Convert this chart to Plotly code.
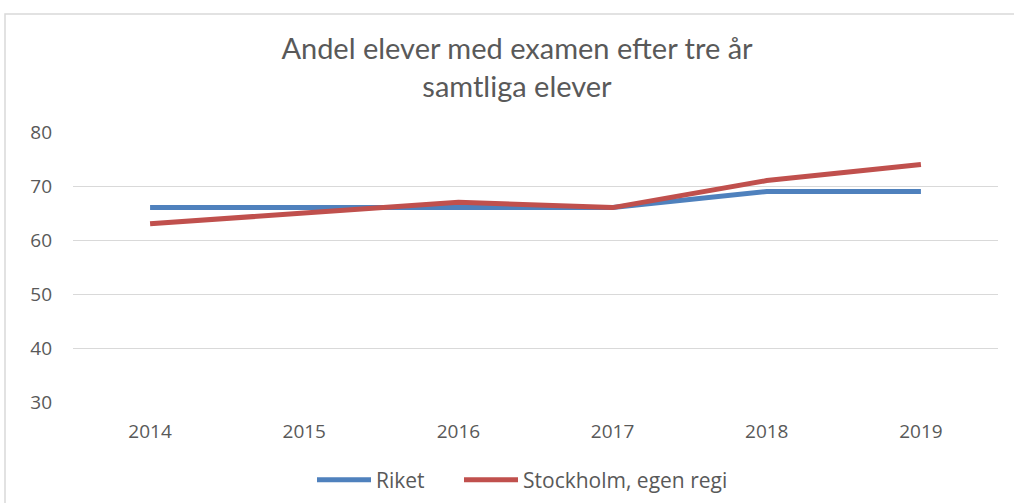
import plotly.graph_objects as go

years = ["2014", "2015", "2016", "2017", "2018", "2019"]
riket = [66, 66, 66, 66, 69, 69]
stockholm = [63, 65, 67, 66, 71, 74]
y_ticks = [30, 40, 50, 60, 70, 80]

L, R, T, B = 73, 16, 132, 101
W, H = 1014, 503
pw, ph = W - L - R, H - T - B

fig = go.Figure()
fig.add_trace(go.Scatter(x=years, y=riket, mode="lines", name="Riket",
                         line=dict(color="#4F81BD", width=5), legend="legend"))
fig.add_trace(go.Scatter(x=years, y=stockholm, mode="lines", name="Stockholm, egen regi",
                         line=dict(color="#C0504D", width=5), legend="legend2"))

tick_font = dict(family="'Open Sans', sans-serif", size=19, color="#595959")
legend_font = dict(family="'Open Sans', sans-serif", size=21, color="#595959")
fig.update_layout(
    width=W, height=H,
    margin=dict(l=L, r=R, t=T, b=B),
    paper_bgcolor="white", plot_bgcolor="white",
    title=dict(text="Andel elever med examen efter tre år<br>samtliga elever",
               x=517 / W, xanchor="center", xref="container",
               y=1 - 59 / H, yanchor="middle", yref="container",
               font=dict(family="Lato, sans-serif", size=29, color="#595959")),
    xaxis=dict(type="category", range=[-0.5, 5.5], showgrid=False, zeroline=False,
               showline=False, ticks="", ticklabelstandoff=16, tickfont=tick_font),
    yaxis=dict(range=[30, 80], tickvals=y_ticks, showgrid=True, gridcolor="#D9D9D9",
               gridwidth=1, zeroline=False, showline=False, ticks="",
               ticklabelstandoff=20, tickfont=tick_font),
    legend=dict(orientation="h", x=(318 - 6) / W, xref="container", xanchor="left",
                y=1 - 480 / H, yref="container", yanchor="middle", font=legend_font,
                itemwidth=54),
    legend2=dict(orientation="h", x=(465 - 6) / W, xref="container", xanchor="left",
                 y=1 - 480 / H, yref="container", yanchor="middle", font=legend_font,
                 itemwidth=54),
    showlegend=True,
)

fig.add_shape(type="rect", xref="paper", yref="paper",
              x0=(5 - L) / pw, x1=(W + 20 - L) / pw,
              y0=(H - B - (H + 20)) / ph, y1=(H - B - 14) / ph,
              line=dict(color="#D9D9D9", width=1.5), fillcolor="rgba(0,0,0,0)", layer="below")

fig.write_html("out.html", config={"displayModeBar": False},
               post_script="document.body.style.margin='0';document.body.style.overflow='hidden';")
